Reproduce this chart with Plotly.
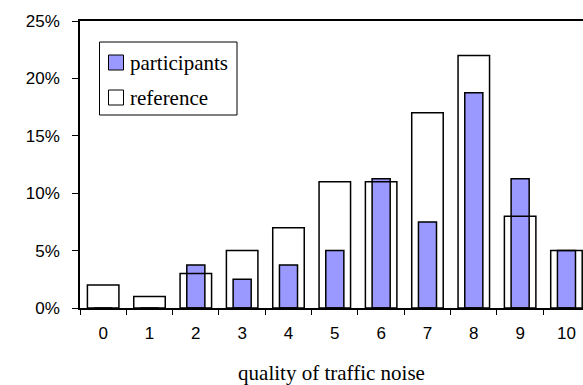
import plotly.graph_objects as go

categories = ["0", "1", "2", "3", "4", "5", "6", "7", "8", "9", "10"]
participants = [0, 0, 3.75, 2.5, 3.75, 5, 11.25, 7.5, 18.75, 11.25, 5]
reference = [2, 1, 3, 5, 7, 11, 11, 17, 22, 8, 5]
y_ticks = [0, 5, 10, 15, 20, 25]
y_tick_labels = [f"{v}%" for v in y_ticks]
series_names = ["participants", "reference"]
series_colors = ["#9999FF", "white"]

W, H = 583, 385
ML, MR, MT, MB = 80, 0, 21, 77
PW, PH = W - ML - MR, H - MT - MB


def px(x):
    return (x - ML) / PW


def py(y):
    return (H - MB - y) / PH


fig = go.Figure()
fig.add_trace(go.Bar(
    x=categories, y=participants, name=series_names[0], width=0.39,
    marker=dict(color=series_colors[0], line=dict(color="black", width=1.5)),
    showlegend=False,
))
fig.add_trace(go.Bar(
    x=categories, y=reference, name=series_names[1], width=0.68,
    marker=dict(color="rgba(255,255,255,0)", line=dict(color="black", width=1.5)),
    showlegend=False,
))

# legend drawn manually (box, swatches, labels)
shapes = [dict(type="rect", xref="paper", yref="paper",
               x0=px(99.5), x1=px(237), y0=py(115), y1=py(42),
               line=dict(color="black", width=1), fillcolor="white", layer="above")]
annotations = []
row_centers = [62.5, 97.5]
for name, col, cy in zip(series_names, series_colors, row_centers):
    shapes.append(dict(type="rect", xref="paper", yref="paper",
                       x0=px(108.5), x1=px(123.5), y0=py(cy + 7.5), y1=py(cy - 7.5),
                       line=dict(color="black", width=1), fillcolor=col, layer="above"))
    annotations.append(dict(xref="paper", yref="paper", x=px(128), y=py(cy),
                            xanchor="left", yanchor="middle", showarrow=False,
                            text=name,
                            font=dict(family="Liberation Serif", size=21, color="black")))

fig.update_layout(
    width=W, height=H,
    margin=dict(l=ML, r=MR, t=MT, b=MB),
    barmode="overlay",
    plot_bgcolor="white", paper_bgcolor="white",
    showlegend=False,
    shapes=shapes, annotations=annotations,
    xaxis=dict(
        type="category", range=[-0.5, 10.357],
        showline=True, linecolor="black", linewidth=1.5, mirror=True,
        ticks="outside", ticklen=5, tickcolor="black", tickwidth=1,
        tickson="boundaries", showgrid=False, zeroline=False,
        tickfont=dict(family="Liberation Sans", size=17, color="black"),
        ticklabelstandoff=9,
        title=dict(text="quality of traffic noise",
                   font=dict(family="Liberation Serif", size=21, color="black"),
                   standoff=24),
    ),
    yaxis=dict(
        range=[0, 25], tickvals=y_ticks, ticktext=y_tick_labels,
        showline=True, linecolor="black", linewidth=1.5,
        ticks="outside", ticklen=6, tickcolor="black", tickwidth=1,
        showgrid=False, zeroline=False,
        tickfont=dict(family="Liberation Sans", size=17, color="black"),
        ticklabelstandoff=9,
    ),
)
fig.write_html("out.html")
